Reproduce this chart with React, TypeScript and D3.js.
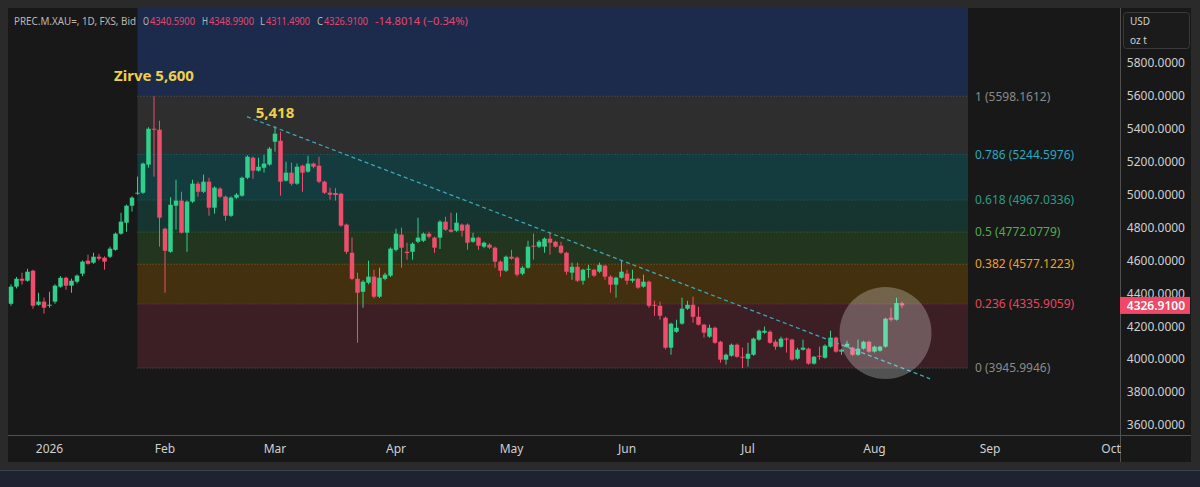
import React from "react";
import * as d3 from "d3";

const WIDTH = 1200;
const HEIGHT = 487;

// trading calendar (FX gold, weekdays without these holidays)
const FIRST_DAY = "2025-12-22";
const LAST_DAY = "2026-10-06";
const HOLIDAYS = ["2025-12-25", "2026-01-01", "2026-04-03"];

// daily bars: open, high, low, close
const OHLC: [number, number, number, number][] = [
  [4337, 4455, 4325, 4441], [4441, 4500, 4430, 4489], [4489, 4526, 4453, 4477], [4477, 4550, 4471, 4532],
  [4538, 4544, 4307, 4325], [4331, 4404, 4325, 4350], [4350, 4374, 4277, 4313], [4325, 4410, 4313, 4331],
  [4350, 4455, 4337, 4447], [4441, 4505, 4435, 4495], [4495, 4502, 4422, 4447], [4447, 4490, 4404, 4477],
  [4471, 4515, 4460, 4508], [4520, 4600, 4505, 4593], [4599, 4635, 4574, 4580], [4587, 4647, 4580, 4623],
  [4623, 4640, 4600, 4611], [4617, 4625, 4544, 4593], [4623, 4684, 4615, 4672], [4665, 4770, 4660, 4763],
  [4763, 4890, 4757, 4836], [4830, 4940, 4775, 4933], [4933, 4990, 4897, 4982], [5006, 5110, 5000, 5012],
  [5012, 5195, 5005, 5189], [5183, 5410, 5164, 5401], [5401, 5598.1612, 5110, 5395], [5395, 5450, 4684, 4860],
  [4793, 4800, 4404, 4659], [4653, 4985, 4647, 4939], [4933, 5091, 4787, 4964], [4964, 5018, 4765, 4769],
  [4769, 4965, 4653, 4958], [4958, 5091, 4950, 5067], [5067, 5079, 4988, 5018], [5018, 5122, 5010, 5079],
  [5079, 5103, 4872, 4921], [4921, 5050, 4885, 5043], [5037, 5045, 4980, 4988], [4988, 4995, 4842, 4872],
  [4872, 4990, 4865, 4982], [4982, 5010, 4975, 5000], [4994, 5110, 4988, 5103], [5103, 5240, 5095, 5231],
  [5225, 5232, 5097, 5146], [5146, 5225, 5140, 5170], [5164, 5243, 5134, 5189], [5183, 5290, 5176, 5280],
  [5322, 5418, 5262, 5371], [5328, 5383, 4994, 5079], [5085, 5200, 5080, 5134], [5134, 5195, 5055, 5067],
  [5067, 5189, 5060, 5170], [5176, 5183, 5018, 5134], [5140, 5237, 5134, 5189], [5189, 5195, 5160, 5170],
  [5176, 5231, 5070, 5079], [5079, 5085, 5005, 5012], [5012, 5043, 4970, 5000], [5010, 5040, 4964, 4998],
  [5006, 5012, 4805, 4812], [4818, 4824, 4640, 4653], [4647, 4740, 4480, 4489], [4489, 4526, 4100, 4404],
  [4410, 4480, 4313, 4471], [4465, 4599, 4455, 4502], [4502, 4544, 4370, 4380], [4380, 4556, 4372, 4495],
  [4489, 4525, 4480, 4514], [4508, 4680, 4500, 4672], [4665, 4793, 4655, 4763], [4757, 4800, 4556, 4678],
  [4653, 4708, 4605, 4645], [4653, 4710, 4605, 4702], [4714, 4860, 4705, 4739], [4720, 4770, 4712, 4763],
  [4763, 4775, 4735, 4745], [4739, 4745, 4647, 4678], [4739, 4845, 4670, 4836], [4836, 4866, 4780, 4787],
  [4787, 4890, 4770, 4775], [4781, 4890, 4775, 4830], [4818, 4825, 4745, 4781], [4818, 4825, 4665, 4708],
  [4714, 4769, 4708, 4739], [4739, 4745, 4665, 4690], [4684, 4715, 4675, 4708], [4696, 4705, 4670, 4678],
  [4678, 4685, 4556, 4593], [4593, 4600, 4502, 4538], [4538, 4630, 4530, 4623], [4623, 4665, 4605, 4611],
  [4617, 4625, 4502, 4514], [4520, 4565, 4510, 4556], [4556, 4720, 4550, 4684], [4690, 4763, 4605, 4684],
  [4684, 4725, 4675, 4714], [4684, 4740, 4647, 4733], [4733, 4775, 4635, 4708], [4714, 4720, 4678, 4684],
  [4690, 4714, 4640, 4647], [4647, 4653, 4514, 4532], [4526, 4587, 4483, 4562], [4562, 4587, 4470, 4477],
  [4477, 4550, 4453, 4544], [4544, 4574, 4495, 4550], [4544, 4550, 4500, 4508], [4532, 4587, 4525, 4574],
  [4568, 4575, 4483, 4502], [4502, 4510, 4404, 4453], [4453, 4502, 4374, 4495], [4495, 4599, 4490, 4532],
  [4520, 4544, 4453, 4477], [4477, 4544, 4465, 4489], [4489, 4495, 4428, 4435], [4441, 4514, 4435, 4471],
  [4471, 4478, 4313, 4325], [4331, 4355, 4264, 4325], [4325, 4350, 4240, 4264], [4252, 4260, 4060, 4070],
  [4070, 4222, 4027, 4216], [4167, 4240, 4160, 4191], [4216, 4374, 4210, 4307], [4307, 4355, 4300, 4331],
  [4331, 4380, 4222, 4258], [4258, 4319, 4205, 4210], [4210, 4215, 4131, 4161], [4137, 4210, 4130, 4191],
  [4191, 4198, 4094, 4100], [4106, 4112, 3979, 3997], [3997, 4035, 3967, 4027], [4021, 4095, 4015, 4088],
  [4088, 4095, 4009, 4015], [4015, 4070, 3946, 4009], [4003, 4100, 3955, 4033], [4027, 4131, 4021, 4125],
  [4119, 4180, 4112, 4173], [4161, 4198, 4155, 4173], [4167, 4175, 4094, 4100], [4106, 4119, 4058, 4076],
  [4076, 4137, 4070, 4125], [4125, 4131, 4040, 4119], [4119, 4125, 3990, 3997], [4003, 4070, 3997, 4058],
  [4058, 4119, 4052, 4070], [4064, 4070, 3967, 3973], [3973, 4020, 3967, 4015], [4021, 4076, 3997, 4015],
  [4009, 4090, 4003, 4082], [4076, 4173, 4070, 4131], [4131, 4137, 4040, 4046], [4046, 4064, 4027, 4058],
  [4076, 4112, 4070, 4094], [4070, 4076, 4021, 4027], [4027, 4119, 4021, 4064], [4064, 4112, 4058, 4106],
  [4106, 4112, 4040, 4046], [4046, 4082, 4040, 4076], [4052, 4082, 4046, 4076], [4076, 4252, 4070, 4246],
  [4252, 4313, 4230, 4240], [4240, 4374, 4235, 4341.7114], [4340.59, 4348.99, 4311.49, 4326.91],
];

const PRICE_TICKS = [3600, 3800, 4000, 4200, 4400, 4600, 4800, 5000, 5200, 5400, 5600, 5800];

// fibonacci retracement drawing (level prices as printed on the chart)
const FIB_START = 23;
const FIB_END = 174;
const FIB_LEVELS = [1, 0.786, 0.618, 0.5, 0.382, 0.236, 0];
const FIB_PRICES = [5598.1612, 5244.5976, 4967.0336, 4772.0779, 4577.1223, 4335.9059, 3945.9946];
const FIB_COLORS = ["#8a8a8a", "#22a9c2", "#1fa088", "#4fae4a", "#f0a020", "#e8455f", "#8a8a8a"];
// zone fills: above level 1 (extension 1.618 at 6619.3), then each band below
const FIB_EXT_PRICE = 6619.3;
const FIB_FILLS = ["#1c2a4c", "#2e2e2e", "#143c3e", "#173530", "#22351e", "#43300f", "#3c1f24"];

// annotations
const TREND_LINE = [
  { i: 42.9, p: 5474 },
  { i: 167.1, p: 3881 },
];
const PEAK_LABELS = [
  { i: 26, text: "Zirve 5,600", offset: 21 },
  { i: 48, text: "5,418", offset: 13 },
];
const HIGHLIGHT = { i: 159, p: 4160 };

const SYMBOL = "PREC.M.XAU=, 1D, FXS, Bid";

const UP = "#2fcf8c";
const DOWN = "#ef4d6c";
const FONT = "'Noto Sans', 'Open Sans', sans-serif";

const PLOT = { left: 8, right: 1120, top: 8, bottom: 435 };

export default function App() {
  const fmtDay = d3.utcFormat("%Y-%m-%d");
  const days = d3
    .utcDay.range(new Date(FIRST_DAY), new Date(LAST_DAY))
    .filter((d) => d.getUTCDay() % 6 !== 0 && !HOLIDAYS.includes(fmtDay(d)));

  const x = d3.scaleLinear().domain([0, OHLC.length - 1]).range([11, 902]);
  const y = d3.scaleLinear().domain([3600, 5800]).range([425, 63.1]);

  const monthTicks = days
    .map((d, i) => ({ d, i }))
    .filter(({ d, i }) => i > 0 && d.getUTCMonth() !== days[i - 1].getUTCMonth())
    .map(({ d, i }) => ({
      i,
      label: d.getUTCMonth() === 0 ? d3.utcFormat("%Y")(d) : d3.utcFormat("%b")(d),
    }));

  const fx0 = x(FIB_START);
  const fx1 = x(FIB_END);
  const zoneEdges = [FIB_EXT_PRICE, ...FIB_PRICES];

  const last = OHLC[OHLC.length - 1];
  const prevClose = OHLC[OHLC.length - 2][3];
  const change = last[3] - prevClose;
  const changePct = (change / prevClose) * 100;

  const trendPath = d3
    .line<{ i: number; p: number }>()
    .x((d) => x(d.i))
    .y((d) => y(d.p))(TREND_LINE);

  const GRAY = "#b8b8b8";
  const RED = "#e0486e";
  const headerParts = [
    { x: 14, w: 122, t: SYMBOL, c: GRAY },
    { x: 143, w: 6, t: "O", c: GRAY },
    { x: 150, w: 45, t: last[0].toFixed(4), c: RED },
    { x: 202, w: 6, t: "H", c: GRAY },
    { x: 209, w: 45, t: last[1].toFixed(4), c: RED },
    { x: 260, w: 5, t: "L", c: GRAY },
    { x: 266, w: 44, t: last[2].toFixed(4), c: RED },
    { x: 317, w: 6, t: "C", c: GRAY },
    { x: 324, w: 44, t: last[3].toFixed(4), c: RED },
    { x: 375, w: 93, t: `${change.toFixed(4)} (${changePct.toFixed(2).replace("-", "\u2212")}%)`, c: RED },
  ];

  return (
    <div style={{ position: "absolute", left: 0, top: 0 }}>
      <svg width={WIDTH} height={HEIGHT} style={{ display: "block" }} fontFamily={FONT}>
        <defs>
          <clipPath id="plot">
            <rect x={PLOT.left} y={PLOT.top} width={PLOT.right - PLOT.left} height={PLOT.bottom - PLOT.top} />
          </clipPath>
        </defs>

        <rect width={WIDTH} height={HEIGHT} fill="#2a2a2a" />
        <rect x={8} y={8} width={1183} height={454} fill="#181818" />
        <rect x={0} y={470} width={WIDTH} height={17} fill="#1e2231" />
        <line x1={0} x2={WIDTH} y1={470.5} y2={470.5} stroke="#3b404e" />

        <g clipPath="url(#plot)">
          {/* fib zones */}
          {FIB_FILLS.map((fill, k) => {
            const yTop = y(zoneEdges[k]);
            const yBot = y(zoneEdges[k + 1]);
            return <rect key={k} x={fx0} y={yTop} width={fx1 - fx0} height={yBot - yTop} fill={fill} />;
          })}
          {FIB_PRICES.map((p, k) => (
            <line
              key={p}
              x1={fx0}
              x2={fx1}
              y1={y(p)}
              y2={y(p)}
              stroke={FIB_COLORS[k]}
              strokeOpacity={0.55}
              strokeDasharray="1 2"
            />
          ))}
          {FIB_PRICES.map((p, k) => (
            <text key={"l" + p} x={fx1 + 7} y={y(p)} dy="0.35em" fontSize={12} fill={FIB_COLORS[k]}>
              {`${FIB_LEVELS[k]} (${p.toFixed(4)})`}
            </text>
          ))}

          {/* candles */}
          {OHLC.map(([o, h, l, c], i) => {
            const cx = x(i);
            const color = c >= o ? UP : DOWN;
            const top = y(Math.max(o, c));
            const bh = Math.max(1, y(Math.min(o, c)) - top);
            return (
              <g key={i}>
                <line x1={cx} x2={cx} y1={y(h)} y2={y(l)} stroke={color} strokeWidth={1} />
                <rect x={cx - 2.25} y={top} width={4.5} height={bh} fill={color} />
              </g>
            );
          })}

          {/* trend line */}
          <path d={trendPath ?? ""} fill="none" stroke="#3aa6b8" strokeWidth={1.3} strokeDasharray="4 3" />

          {/* highlight circle */}
          <circle cx={x(HIGHLIGHT.i)} cy={y(HIGHLIGHT.p)} r={46} fill="#ffffff" fillOpacity={0.25} />

          {PEAK_LABELS.map((a) => (
            <text
              key={a.text}
              x={x(a.i)}
              y={y(OHLC[a.i][1]) - a.offset}
              dy="0.35em"
              textAnchor="middle"
              fontSize={15}
              fontWeight={700}
              fill="#f0d046"
            >
              {a.text}
            </text>
          ))}
        </g>

        {/* header: one line of text, pieces placed where the legend puts them */}
        <text y={24.5} fontSize={11}>
          {headerParts.map((p, k) => (
            <tspan key={k} x={p.x} fill={p.c} textLength={p.w} lengthAdjust="spacingAndGlyphs">
              {p.t}
            </tspan>
          ))}
        </text>

        {/* axes frame */}
        <line x1={PLOT.right + 0.5} x2={PLOT.right + 0.5} y1={8} y2={462} stroke="#505050" />
        <line x1={8} x2={1191} y1={PLOT.bottom + 0.5} y2={PLOT.bottom + 0.5} stroke="#505050" />

        {/* price axis */}
        {PRICE_TICKS.map((p) => (
          <text key={p} x={1185} y={y(p)} dy="0.35em" textAnchor="end" fontSize={12} fill="#cfcfcf">
            {p.toFixed(4)}
          </text>
        ))}
        <rect x={1123.5} y={12.5} width={66} height={36} rx={3} fill="#1b1b1b" stroke="#3a3a3a" />
        <text x={1130} y={24.5} fontSize={10} fill="#cfcfcf">USD</text>
        <text x={1130} y={43.5} fontSize={10} fill="#cfcfcf">oz t</text>

        <rect x={1120} y={y(last[3]) - 8.5} width={70} height={17} fill="#f04866" />
        <text x={1185} y={y(last[3])} dy="0.35em" textAnchor="end" fontSize={12} fontWeight={600} fill="#ffffff">
          {last[3].toFixed(4)}
        </text>

        {/* time axis */}
        {monthTicks.map((t) => (
          <text key={t.i} x={x(t.i)} y={449} dy="0.35em" textAnchor="middle" fontSize={12} fill="#cfcfcf">
            {t.label}
          </text>
        ))}
      </svg>
    </div>
  );
}
